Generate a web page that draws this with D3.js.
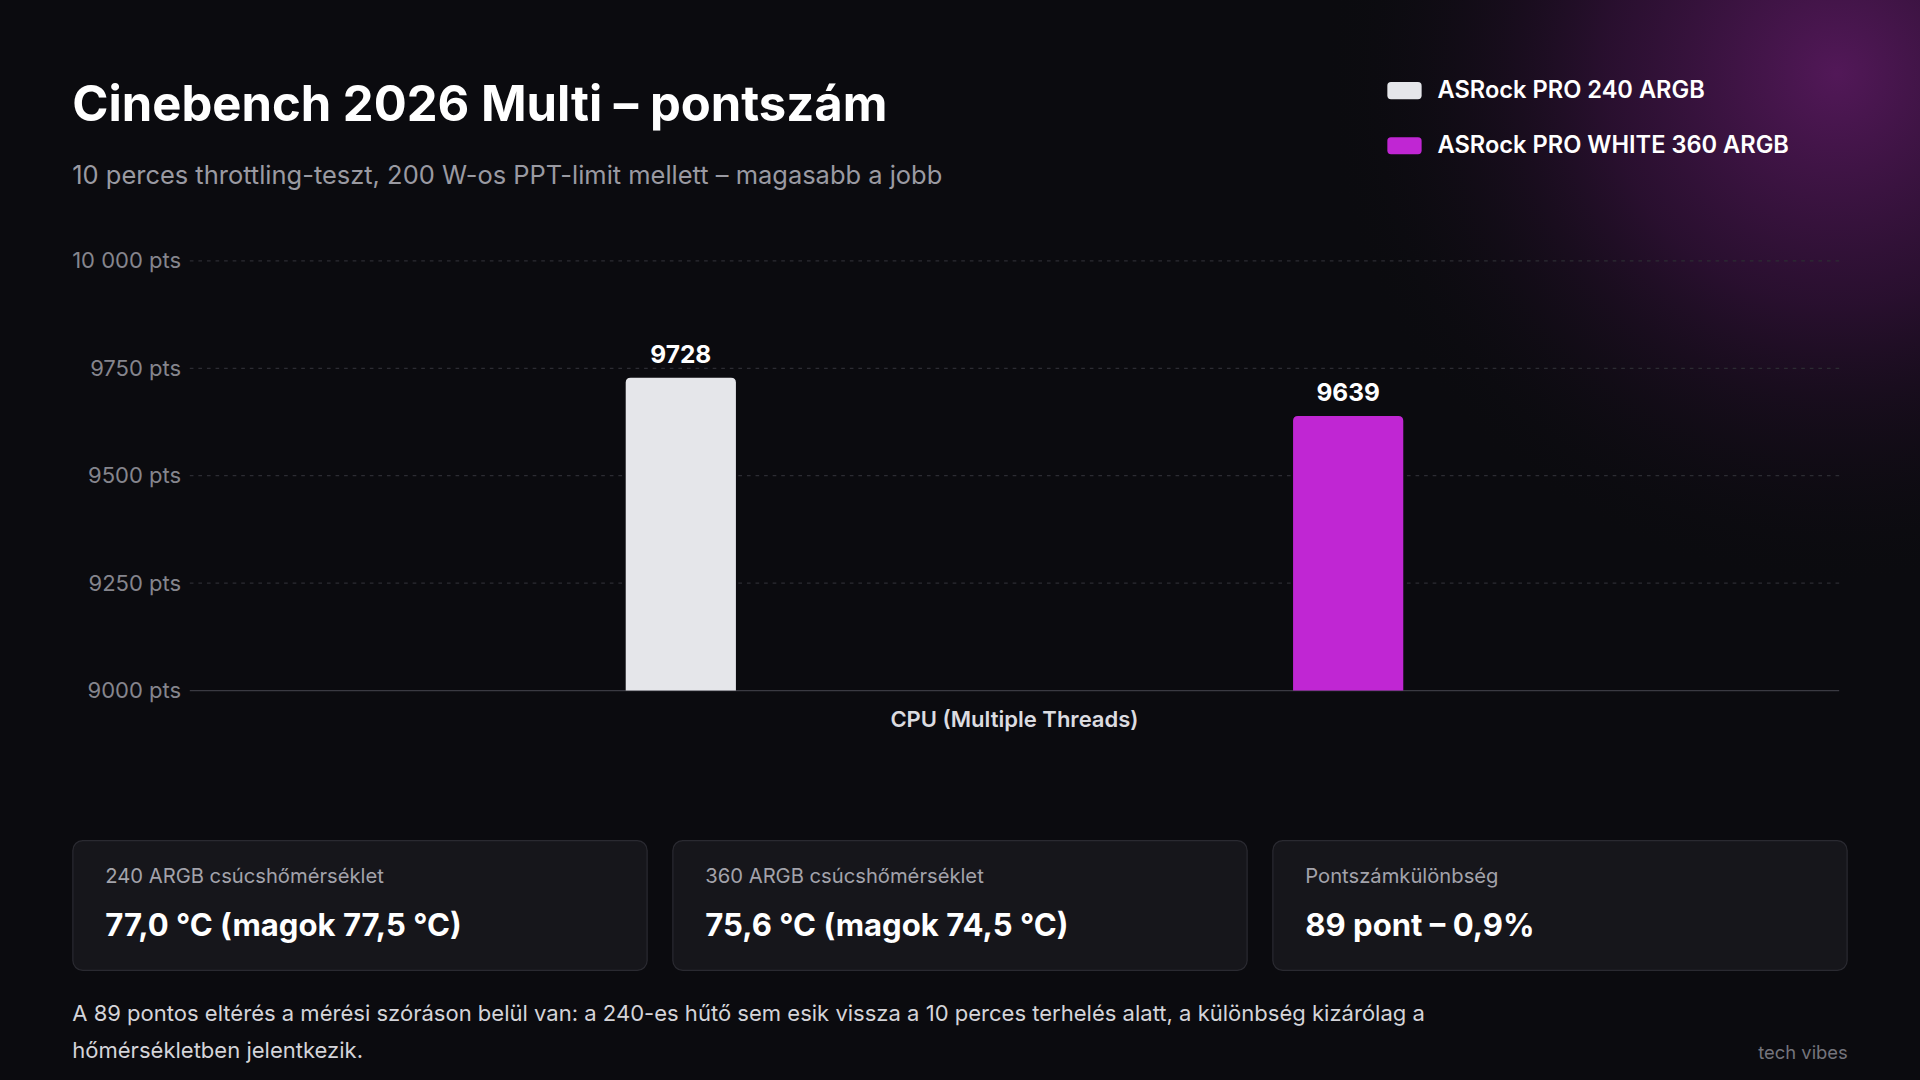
<!DOCTYPE html>
<html><head><meta charset="utf-8">
<script src="https://cdn.jsdelivr.net/npm/d3@7"></script>
<style>html,body{margin:0;padding:0;background:#0b0b0f;overflow:hidden}svg{display:block;font-family:Inter,"Noto Sans",sans-serif}</style>
</head><body>
<svg id="c" width="1920" height="1080" viewBox="0 0 1568 882"></svg>
<script>
const series = ["ASRock PRO 240 ARGB", "ASRock PRO WHITE 360 ARGB"];
const values = [9728, 9639];
const colors = ["#e5e6ea", "#c026d3"];
const category = "CPU (Multiple Threads)";
const yTicks = [9000, 9250, 9500, 9750, 10000];
const cardLabels = ["240 ARGB csúcshőmérséklet", "360 ARGB csúcshőmérséklet", "Pontszámkülönbség"];
const cardValues = ["77,0 °C (magok 77,5 °C)", "75,6 °C (magok 74,5 °C)", "89 pont – 0,9%"];
const footLines = ["A 89 pontos eltérés a mérési szóráson belül van: a 240-es hűtő sem esik vissza a 10 perces terhelés alatt, a különbség kizárólag a", "hőmérsékletben jelentkezik."];

const svg = d3.select("#c");
const defs = svg.append("defs");
const g = defs.append("radialGradient").attr("id","glow").attr("cx",1500).attr("cy",60).attr("r",420).attr("gradientUnits","userSpaceOnUse");
g.append("stop").attr("offset",0).attr("stop-color","#521858").attr("stop-opacity",1);
g.append("stop").attr("offset",0.45).attr("stop-color","#2e1034").attr("stop-opacity",0.85);
g.append("stop").attr("offset",1).attr("stop-color","#0b0b0f").attr("stop-opacity",0);
svg.append("rect").attr("width",1568).attr("height",882).attr("fill","#0b0b0f");
svg.append("rect").attr("width",1568).attr("height",882).attr("fill","url(#glow)");

svg.append("text").attr("x",59).attr("y",99).attr("fill","#fff").attr("font-size",40).attr("font-weight",700).attr("letter-spacing",0).text("Cinebench 2026 Multi – pontszám");
svg.append("text").attr("x",59).attr("y",150).attr("fill","#9a9aa2").attr("font-size",20.8).text("10 perces throttling-teszt, 200 W-os PPT-limit mellett – magasabb a jobb");

series.forEach((s,i)=>{
  svg.append("rect").attr("x",1133).attr("y",67+i*45).attr("width",28).attr("height",14).attr("rx",3).attr("fill",colors[i]);
  svg.append("text").attr("x",1174).attr("y",80+i*45).attr("fill","#fff").attr("font-size",19.3).attr("font-weight",600).text(s);
});

const y = d3.scaleLinear().domain([9000,10000]).range([564,213]);
const x = d3.scalePoint().domain(series).range([283.5,1373.5]).padding(0.5);
const bw = 90;

yTicks.forEach(t=>{
  if(t>9000) svg.append("line").attr("x1",155).attr("x2",1502).attr("y1",y(t)).attr("y2",y(t)).attr("stroke","#2c2c33").attr("stroke-dasharray","3,4");
  svg.append("text").attr("x",148).attr("y",y(t)+6).attr("text-anchor","end").attr("fill","#85858d").attr("font-size",18).text(d3.format(",")(t).replace(",", t>=10000?" ":"")+" pts");
});
svg.append("line").attr("x1",155).attr("x2",1502).attr("y1",564).attr("y2",564).attr("stroke","#3a3a42");

series.forEach((s,i)=>{
  const x0 = x(s)-bw/2, top=y(values[i]), r=4;
  svg.append("path").attr("fill",colors[i])
    .attr("d",`M${x0},564V${top+r}Q${x0},${top} ${x0+r},${top}H${x0+bw-r}Q${x0+bw},${top} ${x0+bw},${top+r}V564Z`);
  svg.append("text").attr("x",x(s)).attr("y",top-12).attr("text-anchor","middle").attr("fill","#fff").attr("font-size",20).attr("font-weight",700).text(values[i]);
});
svg.append("text").attr("x",828.5).attr("y",594).attr("text-anchor","middle").attr("fill","#dcdce0").attr("font-size",18).attr("font-weight",600).text(category);

cardLabels.forEach((l,i)=>{
  const cx = 59+i*490;
  svg.append("rect").attr("x",cx+0.5).attr("y",686.5).attr("width",469).attr("height",106).attr("rx",8).attr("fill","#16161b").attr("stroke","#2a2a31");
  svg.append("text").attr("x",cx+27).attr("y",721).attr("fill","#a3a3ab").attr("font-size",16.5).text(l);
  svg.append("text").attr("x",cx+27).attr("y",764).attr("fill","#fff").attr("font-size",25.4).attr("font-weight",700).text(cardValues[i]);
});
footLines.forEach((t,i)=>{
  svg.append("text").attr("x",59).attr("y",834+i*30).attr("fill","#d4d4d9").attr("font-size",18).text(t);
});
svg.append("text").attr("x",1509).attr("y",865).attr("text-anchor","end").attr("fill","#74747c").attr("font-size",15).text("tech vibes");
</script>
</body></html>
